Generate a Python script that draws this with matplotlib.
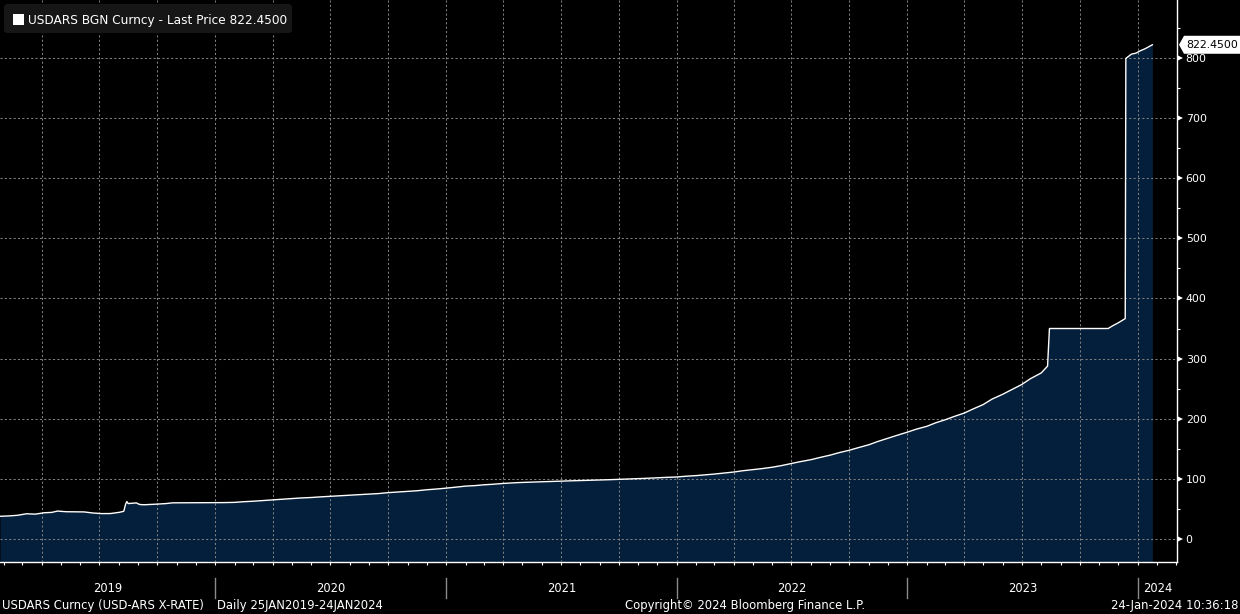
import matplotlib
matplotlib.use("Agg")
import matplotlib.pyplot as plt
import matplotlib.dates as mdates
import matplotlib.transforms as mtransforms
from matplotlib.patches import Polygon, FancyBboxPatch, Rectangle
from matplotlib.ticker import MultipleLocator, NullFormatter
import pandas as pd

# USDARS last price (roughly twice a month)
DATES = [
    "2019-01-25", "2019-02-08", "2019-02-22", "2019-03-08", "2019-03-22", "2019-04-05",
    "2019-04-17", "2019-04-26", "2019-05-10", "2019-05-24", "2019-06-07", "2019-06-21",
    "2019-07-05", "2019-07-19", "2019-08-02", "2019-08-09", "2019-08-12", "2019-08-14",
    "2019-08-16", "2019-08-22", "2019-08-29", "2019-09-03", "2019-09-10", "2019-09-20",
    "2019-10-01", "2019-10-15", "2019-10-25", "2019-11-15", "2019-12-02", "2019-12-17",
    "2020-01-02", "2020-01-15", "2020-02-01", "2020-02-15", "2020-03-01", "2020-03-15",
    "2020-04-01", "2020-04-15", "2020-05-01", "2020-05-15", "2020-06-01", "2020-06-15",
    "2020-07-01", "2020-07-15", "2020-08-01", "2020-08-15", "2020-09-01", "2020-09-15",
    "2020-10-01", "2020-10-15", "2020-11-01", "2020-11-15", "2020-12-01", "2020-12-15",
    "2020-12-31", "2021-01-15", "2021-02-01", "2021-02-15", "2021-03-01", "2021-03-15",
    "2021-04-01", "2021-04-15", "2021-05-01", "2021-05-15", "2021-06-01", "2021-06-15",
    "2021-07-01", "2021-07-15", "2021-08-01", "2021-08-15", "2021-09-01", "2021-09-15",
    "2021-10-01", "2021-10-15", "2021-11-01", "2021-11-15", "2021-12-01", "2021-12-15",
    "2021-12-31", "2022-01-15", "2022-02-01", "2022-02-15", "2022-03-01", "2022-03-15",
    "2022-04-01", "2022-04-15", "2022-05-01", "2022-05-15", "2022-06-01", "2022-06-15",
    "2022-07-01", "2022-07-15", "2022-08-01", "2022-08-15", "2022-09-01", "2022-09-15",
    "2022-10-01", "2022-10-15", "2022-11-01", "2022-11-15", "2022-12-01", "2022-12-15",
    "2022-12-31", "2023-01-15", "2023-02-01", "2023-02-15", "2023-03-01", "2023-03-15",
    "2023-04-01", "2023-04-15", "2023-05-01", "2023-05-15", "2023-06-01", "2023-06-15",
    "2023-07-01", "2023-07-15", "2023-08-01", "2023-08-11", "2023-08-14", "2023-11-15",
    "2023-11-22", "2023-12-01", "2023-12-12", "2023-12-13", "2023-12-22", "2023-12-29",
    "2024-01-05", "2024-01-12", "2024-01-19", "2024-01-24",
]
PRICES = [
    37.3, 37.9, 39.0, 41.5, 40.9, 43.2,
    43.8, 46.0, 44.9, 44.7, 44.6, 42.8,
    41.8, 41.9, 43.9, 45.6, 57.8, 61.8,
    58.5, 59.0, 59.6, 57.0, 56.5, 57.0,
    57.6, 58.5, 59.7, 59.8, 59.9, 59.9,
    60.0, 60.1, 60.5, 61.6, 62.4, 63.4,
    64.6, 65.6, 66.9, 67.8, 68.6, 69.6,
    70.5, 71.4, 72.5, 73.3, 74.2, 75.1,
    76.7, 77.7, 78.8, 79.8, 81.5, 82.6,
    84.1, 85.8, 87.6, 88.4, 89.7, 90.6,
    92.0, 92.9, 93.7, 94.2, 94.8, 95.3,
    95.8, 96.3, 96.8, 97.2, 97.7, 98.2,
    98.8, 99.2, 99.8, 100.6, 101.4, 102.1,
    102.7, 104.0, 105.1, 106.4, 107.6, 109.2,
    111.0, 113.1, 114.9, 116.6, 119.0, 121.6,
    125.2, 128.2, 131.5, 135.1, 139.2, 143.3,
    147.3, 151.5, 156.4, 161.8, 167.2, 171.9,
    177.1, 182.3, 187.2, 193.0, 197.7, 203.1,
    209.2, 216.0, 223.3, 232.4, 240.5, 248.0,
    256.7, 266.5, 276.0, 287.3, 350.0, 350.0,
    354.5, 359.5, 366.5, 799.8, 806.9, 808.5,
    812.5, 815.6, 819.5, 822.45,
]
Y_TICKS = [0, 100, 200, 300, 400, 500, 600, 700, 800]
YEARS = [2019, 2020, 2021, 2022, 2023, 2024]

W, H = 1240, 614
FILL = "#041f3b"
GRID = "#808080"
FS = 7.9        # axis labels
FS_FOOT = 8.4   # footer line

plt.rcParams["font.family"] = ["DejaVu Sans"]

fig = plt.figure(figsize=(W / 100, H / 100), dpi=100, facecolor="black")
ax = fig.add_axes([0, 52 / H, 1177 / W, 562 / H])
ax.set_facecolor("black")

dates = pd.to_datetime(DATES)
x0 = pd.Timestamp("2019-01-25")
x1 = pd.Timestamp("2024-03-03")
y_min, y_max = -38.8, 897.0

ax.fill_between(dates, PRICES, y_min, color=FILL, lw=0, zorder=1)
ax.plot(dates, PRICES, color="white", lw=1.0, zorder=3)

ax.set_xlim(x0, x1)
ax.set_ylim(y_min, y_max)

for side in ("left", "top"):
    ax.spines[side].set_visible(False)
for side in ("right", "bottom"):
    ax.spines[side].set_color("white")
    ax.spines[side].set_linewidth(1.0)

# x: quarterly grid, monthly tick marks, no labels
ax.xaxis.set_major_locator(mdates.MonthLocator(bymonth=[1, 4, 7, 10]))
ax.xaxis.set_minor_locator(mdates.MonthLocator())
ax.xaxis.set_major_formatter(NullFormatter())
ax.tick_params(axis="x", which="both", direction="out", length=2.5, width=0.8,
               color="white")

# y: on the right, grid every 100, minor ticks every 50
ax.yaxis.tick_right()
ax.set_yticks(Y_TICKS)
ax.yaxis.set_minor_locator(MultipleLocator(50))
ax.tick_params(axis="y", which="major", length=0, pad=6.3, labelcolor="white",
               labelsize=FS)
ax.tick_params(axis="y", which="minor", direction="out", length=2.4, width=0.8,
               color="white")

ax.set_axisbelow(False)
ax.grid(True, which="major", color=GRID, linestyle=(0, (2, 2.2)), linewidth=0.75,
        zorder=2)

# little triangles on the major y ticks
tri_tr = mtransforms.blended_transform_factory(ax.transAxes, ax.transData) + \
    mtransforms.ScaledTranslation(2.6 / 100, 0, fig.dpi_scale_trans)
ax.plot([1.0] * len(Y_TICKS), Y_TICKS, ls="none", marker=">", ms=4.6,
        color="white", mec="white", mew=0, transform=tri_tr, clip_on=False,
        zorder=5)

# year bands below the axis
band_tr = mtransforms.blended_transform_factory(ax.transData, fig.transFigure)
xn0, xn1 = mdates.date2num(x0), mdates.date2num(x1)
for yr in YEARS:
    start = max(mdates.date2num(pd.Timestamp(f"{yr}-01-01")), xn0)
    end = min(mdates.date2num(pd.Timestamp(f"{yr + 1}-01-01")), xn1)
    ax.text((start + end) / 2, 1 - 588 / H, str(yr), transform=band_tr,
            ha="center", va="center", color="white", fontsize=8.3, clip_on=False)
    if yr > YEARS[0]:
        sep = mdates.date2num(pd.Timestamp(f"{yr}-01-01"))
        ax.plot([sep, sep], [1 - 578 / H, 1 - 598 / H], color="#8a8a8a", lw=1.0,
                transform=band_tr, clip_on=False)

# footer
fy = 1 - 605.5 / H
fig.text(2 / W, fy, "USDARS Curncy (USD-ARS X-RATE)", color="white", fontsize=FS_FOOT,
         va="center", ha="left")
fig.text(217 / W, fy, "Daily 25JAN2019-24JAN2024", color="white", fontsize=FS_FOOT,
         va="center", ha="left")
fig.text(745 / W, fy, "Copyright\u00a9 2024 Bloomberg Finance L.P.", color="white",
         fontsize=FS_FOOT, va="center", ha="center")
fig.text(1238 / W, fy, "24-Jan-2024 10:36:18", color="white", fontsize=FS_FOOT,
         va="center", ha="right")

# legend box, top left (display pixels)
ident = mtransforms.IdentityTransform()
fig.patches.append(FancyBboxPatch((4, H - 33), 288, 29,
                                  boxstyle="round,pad=0,rounding_size=3",
                                  fc="#161616", ec="none", transform=ident,
                                  figure=fig))
fig.patches.append(Rectangle((12.5, H - 24.5), 11, 11, fc="white", ec="none",
                             transform=ident, figure=fig))
fig.text(28 / W, 1 - 20.5 / H, "USDARS BGN Curncy - Last Price 822.4500",
         color="white", fontsize=8.75, va="center", ha="left")

# last price tag on the y axis
last = PRICES[-1]
ly = ax.transData.transform((mdates.date2num(dates[-1]), last))[1]
tag = Polygon([(1179, ly), (1184, ly + 9), (W, ly + 9), (W, ly - 9), (1184, ly - 9)],
              closed=True, fc="white", ec="none", transform=ident, figure=fig)
fig.patches.append(tag)
fig.text(1186 / W, ly / H, f"{last:.4f}", color="black", fontsize=FS,
         va="center", ha="left")

fig.savefig("out.png", dpi=100, facecolor="black")
